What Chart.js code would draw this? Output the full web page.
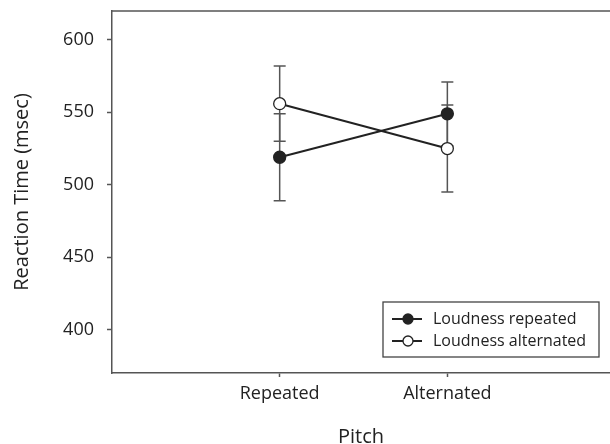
<!DOCTYPE html>
<html lang="en">
<head>
    <meta charset="UTF-8">
    <title>Reaction Time by Pitch</title>
    <script src="https://cdn.jsdelivr.net/npm/chart.js"></script>
    <style>
        body {
            margin: 0;
            padding: 0;
            background-color: #fff;
        }
        .chart-wrapper {
            width: 610px;
            height: 444px;
        }
    </style>
</head>
<body>
    <div class="chart-wrapper">
        <canvas id="rtChart"></canvas>
    </div>

    <script>
        // Data
        const categories = ['Repeated', 'Alternated'];
        const seriesNames = ['Loudness repeated', 'Loudness alternated'];
        const loudnessRepeated = [519, 549];
        const loudnessRepeatedErr = [30, 22];
        const loudnessAlternated = [556, 525];
        const loudnessAlternatedErr = [26, 30];
        const yTicks = [400, 450, 500, 550, 600];

        const errors = [loudnessRepeatedErr, loudnessAlternatedErr];
        const ink = '#222';
        const frame = '#555';
        const fontFamily = '"Open Sans", sans-serif';

        function toPoints(values) {
            return values.map((v, i) => ({ x: i + 1, y: v }));
        }

        // Error bars, drawn under the markers
        const errorBars = {
            id: 'errorBars',
            beforeDatasetsDraw(chart) {
                const ctx = chart.ctx;
                const xs = chart.scales.x;
                const ys = chart.scales.y;
                ctx.save();
                ctx.strokeStyle = frame;
                ctx.lineWidth = 1.5;
                chart.data.datasets.forEach((ds, di) => {
                    ds.data.forEach((p, i) => {
                        const x = xs.getPixelForValue(p.x);
                        const yTop = ys.getPixelForValue(p.y + errors[di][i]);
                        const yBot = ys.getPixelForValue(p.y - errors[di][i]);
                        ctx.beginPath();
                        ctx.moveTo(x, yTop);
                        ctx.lineTo(x, yBot);
                        ctx.moveTo(x - 6, yTop);
                        ctx.lineTo(x + 6, yTop);
                        ctx.moveTo(x - 6, yBot);
                        ctx.lineTo(x + 6, yBot);
                        ctx.stroke();
                    });
                });
                ctx.restore();
            }
        };

        // Top frame line and the boxed legend
        const frameAndLegend = {
            id: 'frameAndLegend',
            afterDraw(chart) {
                const ctx = chart.ctx;
                const area = chart.chartArea;
                ctx.save();
                ctx.strokeStyle = frame;
                ctx.lineWidth = 1.5;
                ctx.beginPath();
                ctx.moveTo(area.left, area.top);
                ctx.lineTo(area.right, area.top);
                ctx.stroke();

                const boxW = 216, boxH = 55;
                const bx = 383;
                const by = area.bottom - 16 - boxH;
                ctx.fillStyle = '#fff';
                ctx.fillRect(bx, by, boxW, boxH);
                ctx.strokeStyle = '#444';
                ctx.lineWidth = 1.3;
                ctx.strokeRect(bx, by, boxW, boxH);

                ctx.font = '16px ' + fontFamily;
                ctx.textBaseline = 'middle';
                chart.data.datasets.forEach((ds, di) => {
                    const cy = by + 17 + di * 22;
                    ctx.strokeStyle = ink;
                    ctx.lineWidth = 2;
                    ctx.beginPath();
                    ctx.moveTo(bx + 9, cy);
                    ctx.lineTo(bx + 39, cy);
                    ctx.stroke();
                    ctx.beginPath();
                    ctx.arc(bx + 25, cy, 5, 0, Math.PI * 2);
                    ctx.fillStyle = ds.pointBackgroundColor;
                    ctx.fill();
                    ctx.lineWidth = 1.3;
                    ctx.stroke();
                    ctx.fillStyle = ink;
                    ctx.fillText(ds.label, bx + 50, cy);
                });
                ctx.restore();
            }
        };

        const ctx = document.getElementById('rtChart').getContext('2d');
        new Chart(ctx, {
            type: 'line',
            data: {
                datasets: [
                    {
                        label: seriesNames[0],
                        data: toPoints(loudnessRepeated),
                        borderColor: ink,
                        borderWidth: 2,
                        pointRadius: 6,
                        pointBorderWidth: 1.3,
                        pointBackgroundColor: ink,
                        pointBorderColor: ink
                    },
                    {
                        label: seriesNames[1],
                        data: toPoints(loudnessAlternated),
                        borderColor: ink,
                        borderWidth: 2,
                        pointRadius: 6,
                        pointBorderWidth: 1.3,
                        pointBackgroundColor: '#fff',
                        pointBorderColor: ink
                    }
                ]
            },
            options: {
                responsive: true,
                maintainAspectRatio: false,
                animation: false,
                layout: {
                    autoPadding: false,
                    padding: { top: 11, right: 0, bottom: 0, left: 0 }
                },
                plugins: {
                    legend: { display: false },
                    tooltip: { enabled: false }
                },
                scales: {
                    x: {
                        type: 'linear',
                        min: 0,
                        max: 2.97,
                        afterBuildTicks: (scale) => {
                            scale.ticks = categories.map((c, i) => ({ value: i + 1 }));
                        },
                        afterFit: (scale) => {
                            scale.height = 71;
                            scale.paddingLeft = 0;
                            scale.paddingRight = 0;
                        },
                        ticks: {
                            callback: (v) => categories[v - 1] || '',
                            color: ink,
                            font: { family: fontFamily, size: 18 },
                            padding: 6,
                            maxRotation: 0
                        },
                        grid: {
                            drawOnChartArea: false,
                            drawTicks: true,
                            tickLength: 4,
                            tickColor: frame,
                            tickWidth: 1.5
                        },
                        border: { color: frame, width: 1.5 },
                        title: {
                            display: true,
                            text: 'Pitch',
                            color: ink,
                            font: { family: fontFamily, size: 20, lineHeight: 1.0 },
                            padding: { top: 0, bottom: -3 }
                        }
                    },
                    y: {
                        min: 370,
                        max: 620,
                        afterBuildTicks: (scale) => {
                            scale.ticks = yTicks.map(v => ({ value: v }));
                        },
                        afterFit: (scale) => {
                            scale.width = 112;
                            scale.paddingTop = 0;
                            scale.paddingBottom = 0;
                        },
                        ticks: {
                            color: ink,
                            font: { family: fontFamily, size: 18 },
                            padding: 13
                        },
                        grid: {
                            drawOnChartArea: false,
                            drawTicks: true,
                            tickLength: 5,
                            tickColor: frame,
                            tickWidth: 1.5
                        },
                        border: { color: frame, width: 1.5 },
                        title: {
                            display: true,
                            text: 'Reaction Time (msec)',
                            color: ink,
                            font: { family: fontFamily, size: 20 },
                            padding: { top: 10, bottom: 0 }
                        }
                    }
                }
            },
            plugins: [errorBars, frameAndLegend]
        });
    </script>
</body>
</html>
